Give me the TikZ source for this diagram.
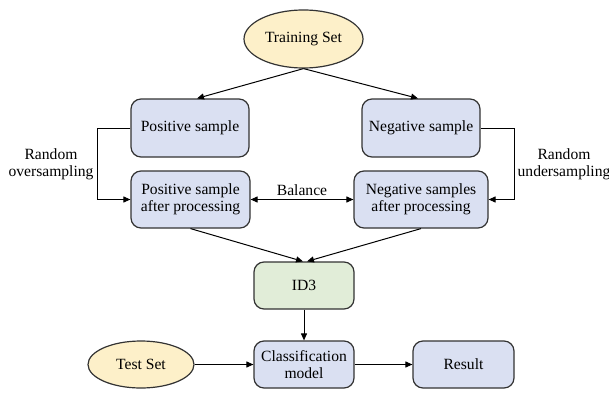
\documentclass[tikz,border=0pt]{standalone}
\usepackage{fontspec}
\setmainfont{Liberation Serif}
\usetikzlibrary{shapes.geometric,arrows.meta}
\definecolor{setfill}{HTML}{FDF0C9}
\definecolor{boxfill}{HTML}{DAE0F2}
\definecolor{algofill}{HTML}{E1EDD8}
\definecolor{edgegray}{HTML}{333333}

\begin{document}
\begin{tikzpicture}[x=1pt,y=-1pt,
		font=\fontsize{15.6pt}{17pt}\selectfont,
		every path/.style={line width=1pt},
		dataset/.style={ellipse,draw=edgegray,fill=setfill,line width=1.2pt,inner sep=0pt},
		stagebox/.style={rectangle,rounded corners=10pt,draw=edgegray,fill=boxfill,line width=1.2pt,align=center,inner sep=0pt},
		algobox/.style={stagebox,fill=algofill},
		flow/.style={-{Triangle[length=7pt,width=6pt]}},
		twoway/.style={{Triangle[length=7pt,width=6pt]}-{Triangle[length=7pt,width=6pt]}}]
		\useasboundingbox (0,0) rectangle (609,393);
		\node[dataset,minimum width=119pt,minimum height=58pt] (train) at (303.5,39) {Training Set};
		\node[stagebox,minimum width=118pt,minimum height=58pt] (pos) at (190,128) {Positive sample};
		\node[stagebox,minimum width=118pt,minimum height=58pt] (neg) at (421,128) {Negative sample};
		\node[stagebox,minimum width=119pt,minimum height=57pt] (posafter) at (190.5,199.5) {Positive sample\\after processing};
		\node[stagebox,minimum width=134pt,minimum height=57pt] (negafter) at (421,199.5) {Negative samples\\after processing};
		\node[algobox,minimum width=100pt,minimum height=47pt] (id3) at (304,285.5) {ID3};
		\node[stagebox,minimum width=100pt,minimum height=47pt] (model) at (304,364.5) {Classification\\model};
		\node[dataset,minimum width=106pt,minimum height=47pt] (test) at (141,364.5) {Test Set};
		\node[stagebox,minimum width=101pt,minimum height=47pt] (result) at (463.5,364.5) {Result};
		\node[align=center] (over) at (51,164) {Random\\oversampling};
		\node[align=center] (under) at (564,164) {Random\\undersampling};

		\draw[flow] (train.south) -- ([xshift=7pt]pos.north);
		\draw[flow] (train.south) -- ([xshift=-3pt]neg.north);
		\draw[flow] (pos.west) -- ++(-33,0) |- (posafter.west);
		\draw[flow] (neg.east) -- ++(34,0) |- (negafter.east);
		\draw[twoway] (posafter.east) -- node[above,inner sep=3pt] (bal) {Balance} (negafter.west);
		\draw[flow] (posafter.south) -- ([xshift=-1pt]id3.north);
		\draw[flow] (negafter.south) -- ([xshift=3pt]id3.north);
		\draw[flow] (id3) -- (model);
		\draw[flow] (test) -- (model);
		\draw[flow] (model) -- (result);
\end{tikzpicture}
\end{document}
